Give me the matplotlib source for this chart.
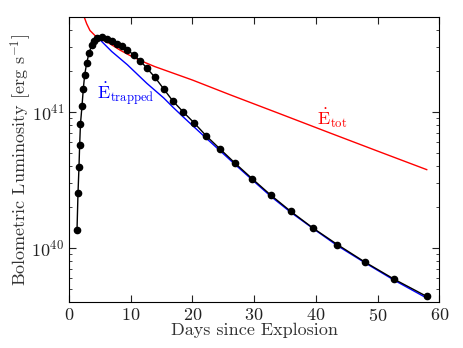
import numpy as np
import matplotlib
matplotlib.use("Agg")
import matplotlib.pyplot as plt

plt.rcParams['font.family'] = 'serif'
plt.rcParams['font.serif'] = ['cmr10', 'DejaVu Serif']
plt.rcParams['mathtext.fontset'] = 'cm'
plt.rcParams['axes.formatter.use_mathtext'] = True
plt.rcParams['axes.unicode_minus'] = False

# ==============================
# DATA
# ==============================
obs_days = [1.30, 1.46, 1.62, 1.73, 1.86, 2.11, 2.32, 2.54, 2.87, 3.24, 3.68,
            4.13, 4.60, 5.30, 6.11, 6.92, 7.73, 8.54, 9.45, 10.53, 11.55,
            12.59, 13.93, 15.34, 16.80, 18.52, 20.30, 22.25, 24.47, 26.94,
            29.65, 32.68, 35.92, 39.54, 43.47, 47.91, 52.71, 57.95]
obs_lum = [1.36e40, 2.53e40, 3.96e40, 5.75e40, 8.2e40, 1.11e41, 1.48e41,
           1.88e41, 2.29e41, 2.72e41, 3.09e41, 3.36e41, 3.52e41, 3.58e41,
           3.44e41, 3.31e41, 3.18e41, 3.04e41, 2.87e41, 2.62e41, 2.38e41,
           2.11e41, 1.80e41, 1.48e41, 1.21e41, 1.00e41, 8.30e40, 6.67e40,
           5.35e40, 4.19e40, 3.24e40, 2.45e40, 1.86e40, 1.40e40, 1.06e40,
           7.89e39, 5.88e39, 4.40e39]

tot_days = [2.43, 2.87, 3.4, 4.2, 5.0, 6.5, 8.3, 10.0, 11.5, 13.9, 20.0,
            26.1, 34.0, 42.3, 50.0, 57.95]
tot_lum = [5.05e41, 4.46e41, 3.98e41, 3.66e41, 3.46e41, 3.21e41, 2.85e41,
           2.59e41, 2.40e41, 2.16e41, 1.72e41, 1.34e41, 9.78e40, 7.01e40,
           5.16e40, 3.77e40]

trap_days = [4.75, 6.92, 9.45, 12.59, 15.34, 16.8, 18.52, 22.25, 24.47,
             26.94, 29.65, 32.68, 35.92, 39.54, 43.47, 47.91, 52.71, 57.95]
trap_lum = [3.50e41, 2.79e41, 2.23e41, 1.63e41, 1.27e41, 1.09e41, 9.19e40,
            6.41e40, 5.19e40, 4.10e40, 3.18e40, 2.40e40, 1.83e40, 1.39e40,
            1.04e40, 7.80e39, 5.78e39, 4.28e39]

# ==============================
# PLOT
# ==============================
fig = plt.figure(figsize=(4.63, 3.48), dpi=100)
ax = fig.add_axes([0.149, 0.132, 0.800, 0.819])

ax.plot(tot_days, tot_lum, color='red', lw=1.0)
ax.plot(trap_days, trap_lum, color='blue', lw=1.0)
ax.plot(obs_days, obs_lum, color='black', lw=1.0, marker='o', markersize=4.5)

ax.text(4.6, 1.23e41, r'$\dot{\mathrm{E}}_{\mathrm{trapped}}$', color='blue',
        fontsize=13, ha='left', va='baseline')
ax.text(40.1, 8.07e40, r'$\dot{\mathrm{E}}_{\mathrm{tot}}$', color='red',
        fontsize=13, ha='left', va='baseline')

ax.set_yscale('log')
ax.set_xlim(0, 60)
ax.set_ylim(4e39, 5e41)
ax.set_xticks([0, 10, 20, 30, 40, 50, 60])

ax.tick_params(which='both', direction='in', top=True, right=True,
               labelsize=13, colors='#222222')
ax.tick_params(which='major', length=5)
ax.tick_params(which='minor', length=2.5)

ax.set_xlabel('Days since Explosion', fontsize=13, labelpad=-1,
              color='#333333')
ax.set_ylabel(r'Bolometric Luminosity [erg s$^{-1}$]', fontsize=13,
              labelpad=-2, color='#333333')

fig.savefig('out.png', dpi=100)
